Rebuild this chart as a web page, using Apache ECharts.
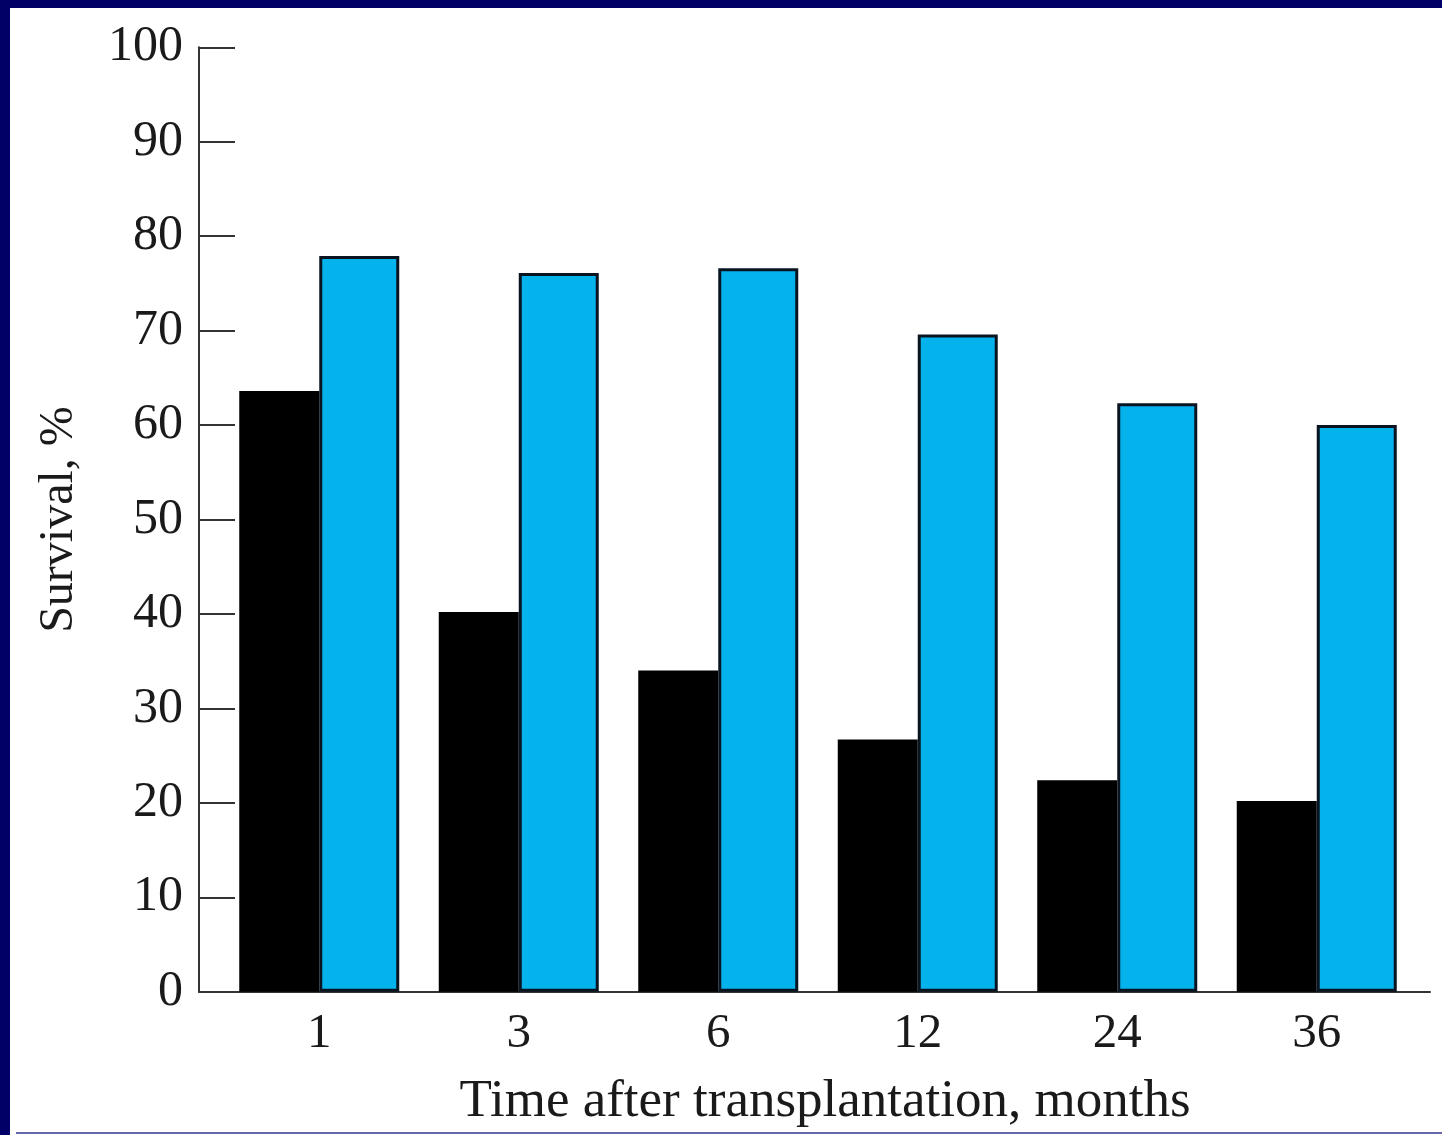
<!DOCTYPE html>
<html>
<head>
<meta charset="utf-8">
<script src="https://cdn.jsdelivr.net/npm/echarts@6/dist/echarts.min.js"></script>
<style>
  html, body { margin: 0; padding: 0; background: #ffffff; }
  #frame { position: absolute; left: 0; top: 0; width: 1442px; height: 1135px; background: #ffffff; }
  #topbar { position: absolute; left: 0; top: 0; width: 1442px; height: 8px; background: #000066; }
  #leftbar { position: absolute; left: 0; top: 0; width: 10px; height: 1135px; background: #000066; }
  #bottomline { position: absolute; left: 16px; top: 1132px; width: 1426px; height: 2px; background: #6666aa; }
  #chart { position: absolute; left: 0; top: 0; width: 1442px; height: 1135px; }
</style>
</head>
<body>
<div id="frame">
  <div id="chart"></div>
  <div id="topbar"></div>
  <div id="leftbar"></div>
  <div id="bottomline"></div>
</div>
<script>
const categories = ['1', '3', '6', '12', '24', '36'];
const seriesBlack = [63.6, 40.2, 34.0, 26.7, 22.4, 20.2];
const seriesBlue = [77.9, 76.1, 76.6, 69.6, 62.3, 60.0];
const yTicks = { min: 0, max: 100, interval: 10 };

const font = 'Liberation Serif';
const chart = echarts.init(document.getElementById('chart'), null, { renderer: 'canvas' });
chart.setOption({
  backgroundColor: 'transparent',
  animation: false,
  grid: [
    { left: 219.5, right: 25.5, top: 47.3, bottom: 143.3 },
    { left: 199, right: 12, top: 47.3, bottom: 143.3 }
  ],
  xAxis: [
    {
      type: 'category',
      gridIndex: 0,
      data: categories,
      axisLine: { show: false },
      axisTick: { show: false },
      axisLabel: { color: '#1a1a1a', fontFamily: font, fontSize: 49, margin: 18 },
      name: 'Time after transplantation, months',
      nameLocation: 'middle',
      nameGap: 84,
      nameTextStyle: { color: '#1a1a1a', fontFamily: font, fontSize: 53, padding: [0, 0, 0, 14] }
    },
    {
      type: 'value',
      gridIndex: 1,
      min: 0, max: 1,
      axisLine: { show: true, lineStyle: { color: '#333333', width: 2 } },
      axisTick: { show: false },
      axisLabel: { show: false },
      splitLine: { show: false }
    }
  ],
  yAxis: [
    {
      type: 'value',
      gridIndex: 0,
      min: yTicks.min, max: yTicks.max, interval: yTicks.interval,
      offset: 20.5,
      axisLine: { show: true, lineStyle: { color: '#333333', width: 2 } },
      axisTick: { show: true, inside: true, length: 36, lineStyle: { color: '#333333', width: 2 } },
      splitLine: { show: false },
      axisLabel: { color: '#1a1a1a', fontFamily: font, fontSize: 50, margin: 16 },
      name: 'Survival, %',
      nameLocation: 'middle',
      nameGap: 116,
      nameRotate: 90,
      nameTextStyle: { color: '#1a1a1a', fontFamily: font, fontSize: 48 }
    },
    {
      type: 'value',
      gridIndex: 1,
      show: false
    }
  ],
  series: [
    {
      type: 'bar',
      xAxisIndex: 0, yAxisIndex: 0,
      data: seriesBlack,
      barWidth: 80,
      barGap: '0%',
      itemStyle: { color: '#000000', borderColor: '#000000', borderWidth: 2 }
    },
    {
      type: 'bar',
      xAxisIndex: 0, yAxisIndex: 0,
      data: seriesBlue,
      barWidth: 80,
      barGap: '0%',
      itemStyle: { color: '#04b2ec', borderColor: '#0a1420', borderWidth: 3 }
    }
  ]
});
</script>
</body>
</html>
